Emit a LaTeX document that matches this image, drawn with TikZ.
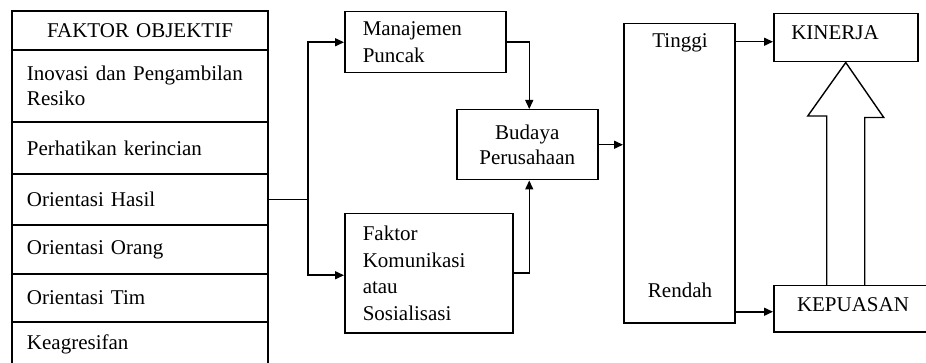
\documentclass[tikz,border=0pt]{standalone}
\usepackage{fontspec}
\setmainfont{Liberation Serif}
\usetikzlibrary{arrows.meta,calc,positioning}
\tikzset{
  cell/.style={draw,rectangle,line width=1.5pt,outer sep=0pt,anchor=north west,minimum width=256pt,
    text width=226pt,inner xsep=15pt,inner ysep=0pt,align=left,font=\fontsize{21}{25}\selectfont},
  box/.style={draw,rectangle,line width=1.5pt,anchor=north west,inner sep=0pt,
    font=\fontsize{21}{26.5}\selectfont},
  lbl/.style={inner sep=0pt,font=\fontsize{21}{25}\selectfont},
  conn/.style={line width=1.5pt,-{Triangle[length=9pt,width=8pt]}},
  hollowarrow/.style={line width=1.4pt,fill=white},
}
\begin{document}
\begin{tikzpicture}[x=1pt,y=-1pt]
\useasboundingbox (0,0) rectangle (926,363);
\clip (0,0) rectangle (926,363);
% kolom faktor objektif
\node[cell,minimum height=39pt,align=center] (fo) at (12,11) {FAKTOR OBJEKTIF};
\node[cell,minimum height=72pt] (inov) at (fo.south west) {Inovasi dan Pengambilan\\Resiko};
\node[cell,minimum height=52pt] (rinci) at (inov.south west) {Perhatikan kerincian};
\node[cell,minimum height=51pt] (hasil) at (rinci.south west) {Orientasi Hasil};
\node[cell,minimum height=49pt] (orang) at (hasil.south west) {Orientasi Orang};
\node[cell,minimum height=48pt] (tim) at (orang.south west) {Orientasi Tim};
\node[cell,minimum height=44pt] (agresif) at (tim.south west) {Keagresifan};
% kotak tengah
\node[box,minimum width=143pt,minimum height=61pt,text width=125pt,inner xsep=18pt,align=left] (mp) at (344,11) {Manajemen\\Puncak};
\node[box,minimum width=150pt,minimum height=119pt,text width=132pt,inner xsep=18pt,align=left] (kom) at (344,213) {Faktor\\Komunikasi\\atau\\Sosialisasi};
\node[box,minimum width=141pt,minimum height=70pt,text width=141pt,align=center,font=\fontsize{21}{25}\selectfont] (budaya) at (456,109) {Budaya\\Perusahaan};
% tinggi rendah
\node[box,minimum width=111pt,minimum height=299pt] (tr) at (623,23) {};
\node[lbl] (tinggi) at (680,43) {Tinggi};
\node[lbl] (rendah) at (680,290) {Rendah};
% hasil akhir
\node[box,minimum width=144pt,minimum height=48pt] (kinerja) at (773,13) {};
\node[lbl] (kinerjat) at (835,33) {KINERJA};
\node[box,minimum width=165pt,minimum height=46pt] (puas) at (773,285) {};
\node[lbl] (puast) at (853,305) {KEPUASAN};
% panah
\draw[line width=1.5pt] (hasil.east) -- ++(40,0) coordinate (split);
\draw[conn] (split) |- (mp.west);
\draw[conn] (split) |- ($(kom.west)+(0,2)$);
\draw[conn] (mp.east) -| ($(budaya.north)+(2,0)$);
\draw[conn] (kom.east) -| ($(budaya.south)+(2,0)$);
\draw[conn] (budaya.east) -- (budaya.east -| tr.west);
\draw[conn] ($(kinerja.west -| tr.east)+(0,4)$) -- ($(kinerja.west)+(0,4)$);
\draw[conn] ($(puas.west -| tr.east)+(0,3)$) -- ($(puas.west)+(0,3)$);
\draw[hollowarrow] ($(kinerja.south |- puas.north)+(-19,0)$) -- ++(0,-169) -- ++(-19,0)
  -- (kinerja.south) -- ++(38,55) -- ++(-19,0) -- ($(kinerja.south |- puas.north)+(19,0)$);
\end{tikzpicture}
\end{document}
